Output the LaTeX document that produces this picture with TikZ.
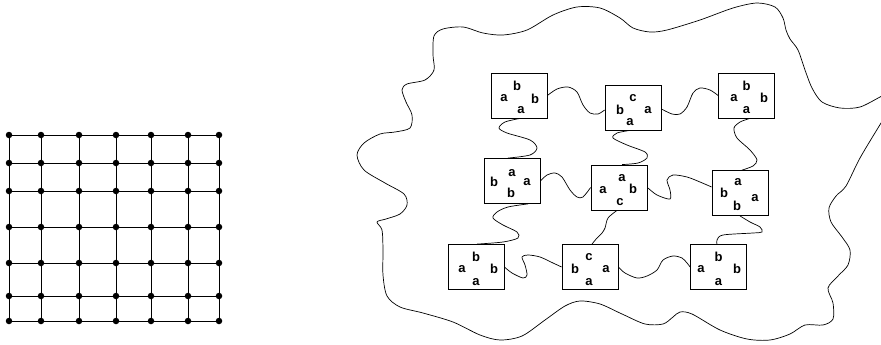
\documentclass[tikz,border=0pt]{standalone}
\usepackage{fontspec}
\setmainfont{Liberation Sans}
\begin{document}
\begin{tikzpicture}[x=1pt,y=-1pt,
  dot/.style={circle,fill=black,inner sep=0pt,minimum size=6.5pt},
  gline/.style={line width=0.9pt},
  cell/.style={draw,line width=0.8pt,minimum width=56pt,minimum height=45pt,inner sep=0pt},
  lt/.style={inner sep=0pt,font=\fontsize{13}{13}\selectfont\bfseries},
  wire/.style={line width=0.7pt},
  blob/.style={line width=0.7pt}]
\useasboundingbox (0,0) rectangle (881,345);

% ---- grid ----
\foreach [count=\i] \x in {9,41,79,116,151,188,219}
  \foreach [count=\j] \y in {135,163,191,227,263,296,321}
    \node[dot] (g\i\j) at (\x,\y) {};
\foreach \i in {1,...,7}
  \foreach \j/\k in {1/2,2/3,3/4,4/5,5/6,6/7} {
    \draw[gline] (g\i\j) -- (g\i\k);
    \draw[gline] (g\j\i) -- (g\k\i);
  }

% ---- blob ----
\begin{scope}
\clip (0,0) rectangle (881,345);
\draw[blob] plot[smooth,tension=0.5] coordinates {
 (900,88) (882,96) (860,107) (840,108) (822,102) (812,88) (805,70)
 (798,50) (790,39) (786,30) (783,18) (775,7) (757,3) (733,8) (700,20)
 (667,30) (650,32) (633,28) (620,18) (600,8) (577,7) (553,15) (527,30)
 (503,35) (483,33) (463,27) (443,29) (434,36) (433,55) (434,70) (425,80) (407,84)
 (402,90) (406,102) (412,115) (410,128) (395,132) (380,134) (364,143) (357,155)
 (364,170) (385,183) (404,194) (407,205) (400,214) (386,219) (377,222) (382,230)
 (383,250) (383,275) (387,296) (400,307) (423,313) (453,322)
 (480,335) (500,340) (522,336) (545,320) (565,306) (580,301) (600,304)
 (622,314) (645,324) (663,324) (673,317) (680,312) (692,314) (720,330)
 (747,339) (770,340) (790,334) (805,325) (823,325) (833,319) (833,303)
 (828,288) (838,276) (848,265) (850,250) (842,237) (831,222) (829,208)
 (836,196) (846,186) (860,158) (881,123) (895,100)};
\end{scope}

% ---- cells ----
\node[cell] (b1) at (519,95.5) {};
\node[cell] (b2) at (633,107.5) {};
\node[cell] (b3) at (746.5,95.5) {};
\node[cell] (b4) at (512,181) {};
\node[cell] (b5) at (619,187.5) {};
\node[cell] (b6) at (740,193) {};
\node[cell] (b7) at (476,267) {};
\node[cell] (b8) at (590,267) {};
\node[cell] (b9) at (718.5,267) {};

% ---- letters ----
\node[lt,shift={(-2,-10)}] (b1t) at (b1) {b};
\node[lt,shift={(-15,3)}] (b1l) at (b1) {a};
\node[lt,shift={(16,3)}] (b1r) at (b1) {b};
\node[lt,shift={(2,15)}] (b1b) at (b1) {a};

\node[lt,shift={(0,-9.5)}] (b2t) at (b2) {c};
\node[lt,shift={(-13,2.5)}] (b2l) at (b2) {b};
\node[lt,shift={(15,2.5)}] (b2r) at (b2) {a};
\node[lt,shift={(-3,14.5)}] (b2b) at (b2) {a};

\node[lt,shift={(0,-10)}] (b3t) at (b3) {b};
\node[lt,shift={(-12.5,2.5)}] (b3l) at (b3) {a};
\node[lt,shift={(17.5,2.5)}] (b3r) at (b3) {b};
\node[lt,shift={(0,14.5)}] (b3b) at (b3) {a};

\node[lt,shift={(0,-8)}] (b4t) at (b4) {a};
\node[lt,shift={(-18,1)}] (b4l) at (b4) {b};
\node[lt,shift={(15,1)}] (b4r) at (b4) {a};
\node[lt,shift={(-1,12)}] (b4b) at (b4) {b};

\node[lt,shift={(3,-9.5)}] (b5t) at (b5) {a};
\node[lt,shift={(-16,2.5)}] (b5l) at (b5) {a};
\node[lt,shift={(14,1.5)}] (b5r) at (b5) {b};
\node[lt,shift={(1,14.5)}] (b5b) at (b5) {c};

\node[lt,shift={(-2,-11)}] (b6t) at (b6) {a};
\node[lt,shift={(-16,0)}] (b6l) at (b6) {b};
\node[lt,shift={(15,5)}] (b6r) at (b6) {a};
\node[lt,shift={(-3,13)}] (b6b) at (b6) {b};

\node[lt,shift={(0,-10)}] (b7t) at (b7) {b};
\node[lt,shift={(-14,2)}] (b7l) at (b7) {a};
\node[lt,shift={(18,2)}] (b7r) at (b7) {b};
\node[lt,shift={(0,15)}] (b7b) at (b7) {a};

\node[lt,shift={(-1,-10)}] (b8t) at (b8) {c};
\node[lt,shift={(-15,2)}] (b8l) at (b8) {b};
\node[lt,shift={(16,2)}] (b8r) at (b8) {a};
\node[lt,shift={(-1,15)}] (b8b) at (b8) {a};

\node[lt,shift={(0,-10)}] (b9t) at (b9) {b};
\node[lt,shift={(-17.5,2)}] (b9l) at (b9) {a};
\node[lt,shift={(18.5,2)}] (b9r) at (b9) {b};
\node[lt,shift={(0,15)}] (b9b) at (b9) {a};

% ---- wavy connectors ----
\draw[wire] plot[smooth] coordinates {(b1.east) (557,89) (568,87) (577,92) (583,105) (590,113) (598,114) ([yshift=-2.5pt]b2.west)};
\draw[wire] plot[smooth] coordinates {([yshift=-1.5pt]b2.east) (672,114) (680,114) (687,107) (693,93) (700,88) (710,90) (b3.west)};
\draw[wire] plot[smooth] coordinates {([xshift=1pt]b1.south) (505,122) (499,128) (507,133) (530,140) (537,148) (530,155) ([xshift=-4pt]b4.north)};
\draw[wire] plot[smooth] coordinates {([xshift=-3pt]b2.south) (617,133) (613,138) (627,145) (645,152) (647,158) (638,163) ([xshift=3pt]b5.north)};
\draw[wire] plot[smooth] coordinates {([xshift=3.5pt]b3.south) (740,122) (734,128) (737,138) (750,150) (757,160) (753,166) ([xshift=2pt]b6.north)};
\draw[wire] plot[smooth] coordinates {(b4.east) (547,175) (555,173) (562,177) (570,190) (577,197) (583,197) (b5.west)};
\draw[wire] plot[smooth] coordinates {(b5.east) (657,195) (670,199) (670,190) (667,180) (673,175) (687,177) (700,182) ([yshift=6pt]b6.west)};
\draw[wire] plot[smooth] coordinates {([xshift=16pt]b4.south) (508,207) (497,212) (493,218) (503,225) (517,232) (518,238) (503,242) ([xshift=1pt]b7.north)};
\draw[wire] plot[smooth] coordinates {([xshift=-2pt]b5.south) (608,218) (605,228) (602,233) (597,238) ([xshift=2pt]b8.north)};
\draw[wire] plot[smooth] coordinates {(b6.south) (750,222) (760,227) (762,232) (753,233) (723,235) (717,240) ([xshift=-1.5pt]b9.north)};
\draw[wire] plot[smooth] coordinates {(b7.east) (512,273) (523,278) (527,275) (525,265) (522,257) (528,255) (540,257) (553,263) (b8.west)};
\draw[wire] plot[smooth] coordinates {(b8.east) (625,273) (637,278) (647,276) (657,270) (663,260) (673,256) (682,258) (687,263) (b9.west)};
\end{tikzpicture}
\end{document}
